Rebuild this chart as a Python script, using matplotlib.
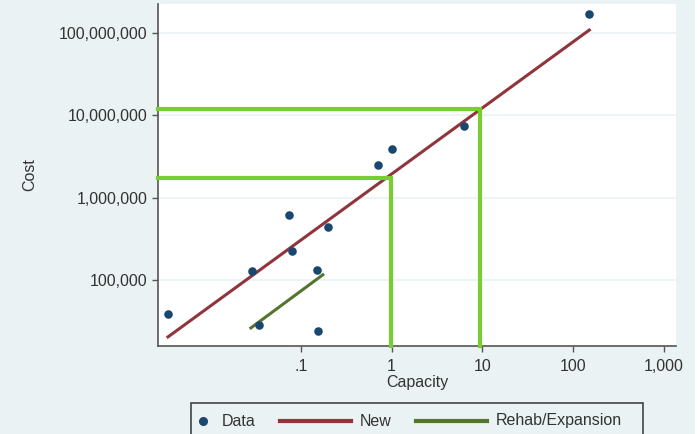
import matplotlib.pyplot as plt
from matplotlib.lines import Line2D
from matplotlib.patches import Rectangle
from matplotlib.ticker import FuncFormatter, NullLocator

# observed projects
capacity = [0.00346, 0.029, 0.035, 0.074, 0.08, 0.15, 0.154, 0.198, 0.70, 1.0, 6.2, 150]
cost = [38500, 129000, 28000, 620000, 226000, 132000, 23900, 443000,
        2.5e6, 3.95e6, 7.35e6, 1.7e8]

# fitted lines (end points)
new_x = [0.00346, 150]
new_y = [20200, 1.09e8]
rehab_x = [0.0283, 0.175]
rehab_y = [26000, 115000]

# read-off guides: capacity -> cost
guide_x = [0.98, 9.3]
guide_y = [1.75e6, 1.18e7]

xticks = [0.1, 1, 10, 100, 1000]
xlabels = [".1", "1", "10", "100", "1,000"]
yticks = [1e5, 1e6, 1e7, 1e8]

BG = "#EAF2F3"
NAVY = "#1A476F"
MAROON = "#90353B"
FOREST = "#55752F"
BRIGHT = "#7ACC33"
FS = 11.5

plt.rcParams['font.family'] = ['Liberation Sans', 'DejaVu Sans']

fig = plt.figure(figsize=(7, 4.34), dpi=100, facecolor=BG)
ax = fig.add_axes([0.2257, 0.2028, 0.74, 0.788])
ax.set_facecolor("white")

xmin, xmax = 10 ** -2.571, 10 ** 3.13
ymin, ymax = 10 ** 4.195, 10 ** 8.354
ax.set_xscale("log")
ax.set_yscale("log")
ax.set_xlim(xmin, xmax)
ax.set_ylim(ymin, ymax)

for yt in yticks:
    ax.axhline(yt, color=BG, lw=1.2, zorder=0)

ax.plot(new_x, new_y, color=MAROON, lw=2.2, zorder=2)
ax.plot(rehab_x, rehab_y, color=FOREST, lw=2.2, zorder=2)
ax.scatter(capacity, cost, s=38, color=NAVY, zorder=3, linewidths=0)

for gx, gy in zip(guide_x, guide_y):
    ax.plot([xmin, gx, gx], [gy, gy, ymin], color=BRIGHT, lw=3,
            solid_joinstyle="miter", zorder=4, clip_on=False)

ax.set_xticks(xticks)
ax.set_xticklabels(xlabels)
ax.set_yticks(yticks)
ax.yaxis.set_major_formatter(FuncFormatter(lambda v, p: f"{v:,.0f}"))
ax.xaxis.set_minor_locator(NullLocator())
ax.yaxis.set_minor_locator(NullLocator())

for s in ["top", "right"]:
    ax.spines[s].set_visible(False)
for s in ["left", "bottom"]:
    ax.spines[s].set_color("#555555")
    ax.spines[s].set_linewidth(1.2)
ax.tick_params(axis="both", direction="out", length=4.5, width=1,
               color="#555555", labelsize=FS, labelcolor="#333333")
ax.tick_params(axis="x", pad=5)
ax.tick_params(axis="y", pad=3)

ax.set_xlabel("Capacity", fontsize=FS, color="#333333")
ax.set_ylabel("Cost", fontsize=FS, color="#333333")
ax.xaxis.set_label_coords(0.5, -0.108)
ax.xaxis.label.set_va("center")
ax.yaxis.set_label_coords(-0.247, 0.5)
ax.yaxis.label.set_va("center")

# legend, laid out by hand in figure pixels
W, H = 700, 434
def fx(px): return px / W
def fy(py): return 1 - py / H

fig.patches.append(Rectangle((fx(191), fy(445)), fx(643) - fx(191), fy(403) - fy(445),
                             transform=fig.transFigure, facecolor=BG,
                             edgecolor="#444444", lw=1.2))
ly = fy(421)
fig.lines.append(Line2D([fx(203)], [ly], transform=fig.transFigure, marker="o",
                        ms=5.5, color=NAVY, ls="none"))
fig.text(fx(222), ly, "Data", fontsize=FS, color="#333333", va="center")
fig.lines.append(Line2D([fx(280), fx(351)], [ly, ly], transform=fig.transFigure,
                        color=MAROON, lw=3))
fig.text(fx(360), ly, "New", fontsize=FS, color="#333333", va="center")
fig.lines.append(Line2D([fx(416), fx(487)], [ly, ly], transform=fig.transFigure,
                        color=FOREST, lw=3))
fig.text(fx(496), ly, "Rehab/Expansion", fontsize=FS, color="#333333", va="center")

# thin white strip at the right edge of the picture
fig.patches.append(Rectangle((fx(695), 0), 1 - fx(695), 1, transform=fig.transFigure,
                             facecolor="white", edgecolor="none"))

fig.savefig("out.png", dpi=100, facecolor=BG)
